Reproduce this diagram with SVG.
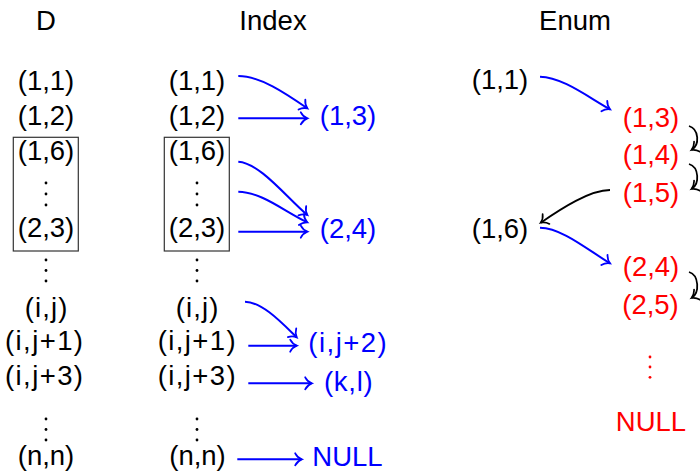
<svg xmlns="http://www.w3.org/2000/svg" width="700" height="472" viewBox="0 0 700 472">
<defs>
<style>
text{font-family:"Liberation Sans",Arial,sans-serif;font-size:27.5px;text-anchor:middle;fill:#000}
.blue{fill:#0000ff}
.red{fill:#ff0000}
.box{fill:none;stroke:#333;stroke-width:1.2}
.dot{fill:#000}
.rdot{fill:#ff0000}
.cb{fill:none;stroke:#0000ff;stroke-width:2;marker-end:url(#ab)}
.ck{fill:none;stroke:#000;stroke-width:1.8;marker-end:url(#ak)}
</style>
<marker id="ab" markerUnits="userSpaceOnUse" markerWidth="14" markerHeight="14" viewBox="-8 -7 10 14" refX="0" refY="0" orient="auto" overflow="visible">
<path d="M-6.5,-6 C-4.5,-2.2 -1.5,-0.6 0,0 C-1.5,0.6 -4.5,2.2 -6.5,6" fill="none" stroke="#0000ff" stroke-width="1.8" stroke-linecap="round"/>
</marker>
<marker id="ak" markerUnits="userSpaceOnUse" markerWidth="14" markerHeight="14" viewBox="-8 -7 10 14" refX="0" refY="0" orient="auto" overflow="visible">
<path d="M-6.5,-6 C-4.5,-2.2 -1.5,-0.6 0,0 C-1.5,0.6 -4.5,2.2 -6.5,6" fill="none" stroke="#000" stroke-width="1.7" stroke-linecap="round"/>
</marker>
</defs>

<g id="headers">
<text x="46" y="30">D</text>
<text x="273" y="30">Index</text>
<text x="575" y="30">Enum</text>
</g>

<g id="col-D">
<g id="D-11"><text x="46" y="89.5">(1,1)</text></g>
<g id="D-12"><text x="46" y="125">(1,2)</text></g>
<g id="D-block">
<rect class="box" x="13.3" y="137.3" width="65" height="113.7"/>
<text x="46" y="160">(1,6)</text>
<circle class="dot" cx="46" cy="183" r="1.4"/><circle class="dot" cx="46" cy="194" r="1.4"/><circle class="dot" cx="46" cy="205" r="1.4"/>
<text x="46" y="236.5">(2,3)</text>
</g>
<g id="D-dots1"><circle class="dot" cx="46" cy="260" r="1.4"/><circle class="dot" cx="46" cy="270.5" r="1.4"/><circle class="dot" cx="46" cy="281" r="1.4"/></g>
<g id="D-ij"><text x="46" y="316.5" textLength="42.6" lengthAdjust="spacing">(i,j)</text></g>
<g id="D-ij1"><text x="44" y="350" textLength="78" lengthAdjust="spacing">(i,j+1)</text></g>
<g id="D-ij3"><text x="44" y="385" textLength="78" lengthAdjust="spacing">(i,j+3)</text></g>
<g id="D-dots2"><circle class="dot" cx="46" cy="419" r="1.4"/><circle class="dot" cx="46" cy="429.5" r="1.4"/><circle class="dot" cx="46" cy="440" r="1.4"/></g>
<g id="D-nn"><text x="46" y="464.5">(n,n)</text></g>
</g>

<g id="col-Index">
<g id="I-11"><text x="197" y="89.5">(1,1)</text></g>
<g id="I-12"><text x="197" y="125">(1,2)</text></g>
<g id="I-block">
<rect class="box" x="164.3" y="137.3" width="65" height="113.7"/>
<text x="197" y="160">(1,6)</text>
<circle class="dot" cx="197" cy="183" r="1.4"/><circle class="dot" cx="197" cy="194" r="1.4"/><circle class="dot" cx="197" cy="205" r="1.4"/>
<text x="197" y="236.5">(2,3)</text>
</g>
<g id="I-dots1"><circle class="dot" cx="197" cy="260" r="1.4"/><circle class="dot" cx="197" cy="270.5" r="1.4"/><circle class="dot" cx="197" cy="281" r="1.4"/></g>
<g id="I-ij"><text x="197" y="316.5" textLength="42.6" lengthAdjust="spacing">(i,j)</text></g>
<g id="I-ij1"><text x="196.7" y="350" textLength="78" lengthAdjust="spacing">(i,j+1)</text></g>
<g id="I-ij3"><text x="196.7" y="385" textLength="78" lengthAdjust="spacing">(i,j+3)</text></g>
<g id="I-dots2"><circle class="dot" cx="197" cy="419" r="1.4"/><circle class="dot" cx="197" cy="429.5" r="1.4"/><circle class="dot" cx="197" cy="440" r="1.4"/></g>
<g id="I-nn"><text x="197.5" y="464.5">(n,n)</text></g>
<g id="I-13"><text class="blue" x="348" y="125">(1,3)</text></g>
<g id="I-24"><text class="blue" x="348" y="238">(2,4)</text></g>
<g id="I-ij2"><text class="blue" x="347.5" y="352" textLength="78.4" lengthAdjust="spacing">(i,j+2)</text></g>
<g id="I-kl"><text class="blue" x="348.3" y="391" textLength="48.7" lengthAdjust="spacing">(k,l)</text></g>
<g id="I-null"><text class="blue" x="347.5" y="466">NULL</text></g>
</g>

<g id="col-Enum">
<g id="E-11"><text x="500" y="88.5">(1,1)</text></g>
<g id="E-13"><text class="red" x="651" y="127">(1,3)</text></g>
<g id="E-14"><text class="red" x="651" y="164">(1,4)</text></g>
<g id="E-15"><text class="red" x="651" y="202">(1,5)</text></g>
<g id="E-16"><text x="500" y="238">(1,6)</text></g>
<g id="E-24"><text class="red" x="651" y="276">(2,4)</text></g>
<g id="E-25"><text class="red" x="650.5" y="314">(2,5)</text></g>
<g id="E-dots"><circle class="rdot" cx="650" cy="357" r="1.4"/><circle class="rdot" cx="650" cy="367" r="1.4"/><circle class="rdot" cx="650" cy="377.3" r="1.4"/></g>
<g id="E-null"><text class="red" x="651" y="431">NULL</text></g>
</g>

<g id="connectors">
<path class="cb" d="M238.3,76 C260,76 285,93 307.3,108.3"/>
<path class="cb" d="M238.3,118.3 L307.3,118.3"/>
<path class="cb" d="M238.3,161.7 C260,163 287,198 307.3,215"/>
<path class="cb" d="M238.3,191.7 C262,192 285,212 307.3,222.3"/>
<path class="cb" d="M238.3,231.7 L307.3,231.7"/>
<path class="cb" d="M245,301.7 C262,302 281,322 296.7,337.3"/>
<path class="cb" d="M248.3,345.7 L296.7,345.7"/>
<path class="cb" d="M248.3,383.3 L311.7,383.3"/>
<path class="cb" d="M237.3,459.3 L301.7,459.3"/>
<path class="cb" d="M540,76.7 C562,77 588,97 610,109.3"/>
<path class="ck" d="M610,190 C590,190 562,208 540.7,222.7"/>
<path class="cb" d="M540,227.7 C562,228 588,250 610,263.3"/>
<path class="ck" d="M689,126 C699,129 700,145 691.5,150"/>
<path class="ck" d="M689,164 C699,167 700,184 691.5,189"/>
<path class="ck" d="M689,272 C699,275 700,293 691.5,298"/>
</g>
</svg>
